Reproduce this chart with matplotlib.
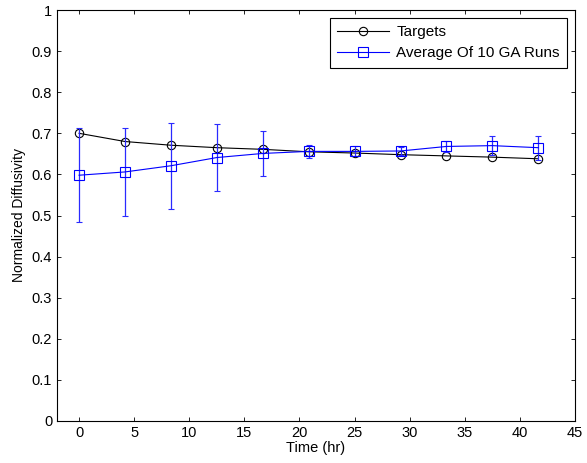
import matplotlib
matplotlib.use("Agg")
import matplotlib.pyplot as plt
from matplotlib.lines import Line2D

time_hr = [0, 4.17, 8.33, 12.5, 16.67, 20.83, 25, 29.17, 33.33, 37.5, 41.67]
targets = [0.700, 0.680, 0.671, 0.665, 0.661, 0.655, 0.652, 0.648, 0.645, 0.642, 0.638]
ga_avg = [0.598, 0.606, 0.621, 0.641, 0.651, 0.656, 0.656, 0.657, 0.668, 0.670, 0.665]
ga_err = [0.115, 0.106, 0.104, 0.081, 0.055, 0.015, 0.012, 0.010, 0.014, 0.023, 0.029]
xticks = [0, 5, 10, 15, 20, 25, 30, 35, 40, 45]
yticks = [0, 0.1, 0.2, 0.3, 0.4, 0.5, 0.6, 0.7, 0.8, 0.9, 1]
ytick_labels = ["0", "0.1", "0.2", "0.3", "0.4", "0.5", "0.6", "0.7", "0.8", "0.9", "1"]

plt.rcParams['font.family'] = ['Liberation Sans', 'DejaVu Sans']
plt.rcParams['font.size'] = 10

fig = plt.figure(figsize=(5.87, 4.63), dpi=100)
ax = fig.add_axes([57/587, 42/463, 518/587, 411/463])

ax.plot(time_hr, targets, color='black', lw=0.8, marker='o', ms=6,
        mfc='none', mec='black', mew=0.8)
ax.errorbar(time_hr, ga_avg, yerr=ga_err, color='blue', ecolor='#2a2aff', lw=0.8,
            marker='s', ms=7, mfc='none', mec='blue', mew=0.8, capsize=2.5,
            elinewidth=0.9, capthick=0.9)

ax.set_xlim(-2, 45)
ax.set_ylim(0, 1)
ax.set_xticks(xticks)
ax.set_yticks(yticks)
ax.set_yticklabels(ytick_labels)
ax.tick_params(direction='in', length=3, width=0.6, top=True, right=True, labelsize=10.5)
for s in ax.spines.values():
    s.set_linewidth(0.8)
ax.set_xlabel('Time (hr)', fontsize=10.5, labelpad=1)
ax.set_ylabel('Normalized Diffusivity', fontsize=10, labelpad=4)

handles = [
    Line2D([], [], color='black', lw=0.8, marker='o', ms=6, mfc='none', mec='black', mew=0.8),
    Line2D([], [], color='blue', lw=0.8, marker='s', ms=7, mfc='none', mec='blue', mew=0.8),
]
leg = ax.legend(handles, ['Targets', 'Average Of 10 GA Runs'], loc='upper right',
                fontsize=11, fancybox=False, edgecolor='black', framealpha=1,
                handlelength=3.4, handletextpad=0.45, labelspacing=0.45,
                borderaxespad=0.5, borderpad=0.5)
leg.get_frame().set_linewidth(0.8)

fig.savefig('out.png', dpi=100)
